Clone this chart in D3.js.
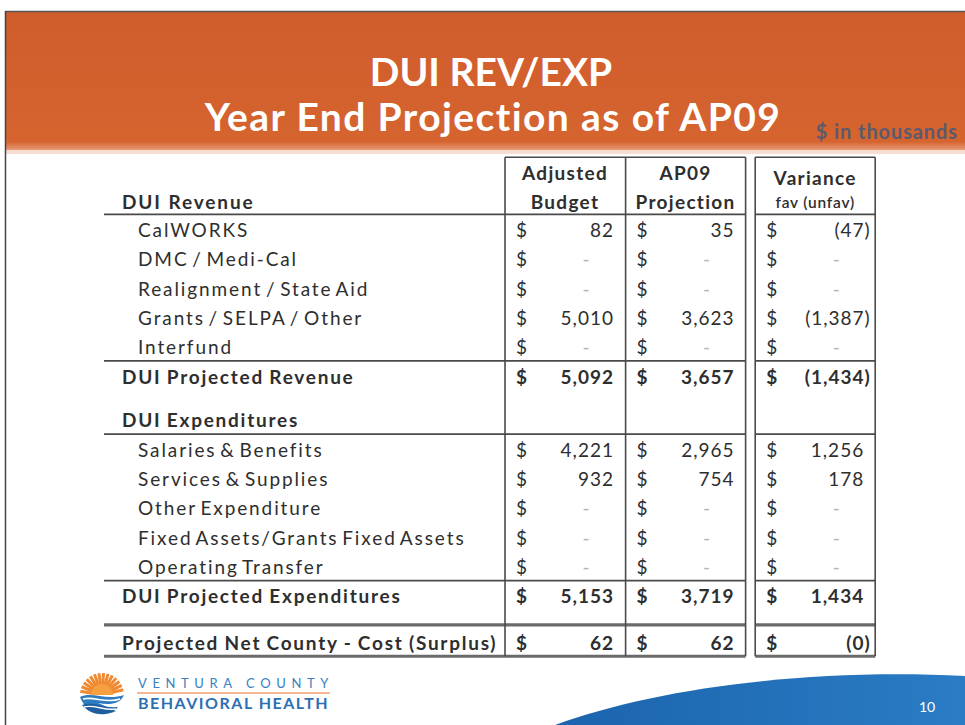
<!DOCTYPE html>
<html><head><meta charset="utf-8">
<script src="https://cdn.jsdelivr.net/npm/d3@7"></script>
<style>
html,body{margin:0;padding:0;background:#fff;}
svg{display:block;}
</style></head>
<body>
<svg id="chart" width="965" height="725"></svg>
<script>
// ---------------- DATA ----------------
const titleLines = ["DUI REV/EXP", "Year End Projection as of AP09"];
const unitsNote = "$ in thousands";
const sectionTitle = "DUI Revenue";
const columnHeaders = [["Adjusted", "Budget"], ["AP09", "Projection"], ["Variance", "fav (unfav)"]];
const categories = [
  "CalWORKS", "DMC / Medi-Cal", "Realignment / State Aid", "Grants / SELPA / Other", "Interfund",
  "DUI Projected Revenue",
  "DUI Expenditures",
  "Salaries & Benefits", "Services & Supplies", "Other Expenditure", "Fixed Assets/Grants Fixed Assets", "Operating Transfer",
  "DUI Projected Expenditures",
  "Projected Net County  - Cost (Surplus)"
];
const rowTypes = ["item","item","item","item","item","total","section","item","item","item","item","item","total","net"];
const adjustedBudget = [82, 0, 0, 5010, 0, 5092, null, 4221, 932, 0, 0, 0, 5153, 62];
const ap09Projection = [35, 0, 0, 3623, 0, 3657, null, 2965, 754, 0, 0, 0, 3719, 62];
const variance =       [-47, 0, 0, -1387, 0, -1434, null, 1256, 178, 0, 0, 0, 1434, -0.2];
const pageNumber = "10";
const logoLines = ["VENTURA COUNTY", "BEHAVIORAL HEALTH"];

// ---------------- LAYOUT ----------------
const W = 965, H = 725;
const svg = d3.select("#chart");
const FONT = "Lato, 'Open Sans', sans-serif";
const TXT = "#2e2e2e";
const LINE = "#4a4a4a";

// frame + banner
svg.append("rect").attr("x",0).attr("y",0).attr("width",W).attr("height",H).attr("fill","#fff");
const defs = svg.append("defs");
const bg = defs.append("linearGradient").attr("id","bannerFade").attr("x1",0).attr("y1",0).attr("x2",0).attr("y2",1);
bg.append("stop").attr("offset","0").attr("stop-color","#d05c2c");
bg.append("stop").attr("offset","0.94").attr("stop-color","#d5642f");
bg.append("stop").attr("offset","1").attr("stop-color","#e79a78");
svg.append("rect").attr("x",5).attr("y",12).attr("width",W-5).attr("height",138).attr("fill","url(#bannerFade)");
svg.append("rect").attr("x",5).attr("y",150).attr("width",W-5).attr("height",4).attr("fill","#f7ddd2");
svg.append("line").attr("x1",5).attr("x2",W).attr("y1",11.5).attr("y2",11.5).attr("stroke","#555").attr("stroke-width",1.5);
svg.append("line").attr("x1",5.5).attr("x2",5.5).attr("y1",11).attr("y2",H).attr("stroke","#444").attr("stroke-width",1.5);

// title
svg.append("text").attr("x",491).attr("y",86).attr("text-anchor","middle")
  .attr("font-family",FONT).attr("font-weight",700).attr("font-size",39).attr("fill","#fff")
  .text(titleLines[0]);
svg.append("text").attr("x",493).attr("y",131).attr("text-anchor","middle")
  .attr("font-family",FONT).attr("font-weight",700).attr("font-size",39).attr("letter-spacing",1.4).attr("fill","#fff")
  .text(titleLines[1]);
svg.append("text").attr("x",958).attr("y",139).attr("text-anchor","end")
  .attr("font-family",FONT).attr("font-weight",700).attr("font-size",20).attr("letter-spacing",0.9).attr("fill","#5a5a6e")
  .text(unitsNote);

// row slot scale
const gapBefore = {section: 0.5, net: 0.58};
let acc = 0;
const slots = categories.map((c,i) => { acc += (gapBefore[rowTypes[i]] || 0); return i + acc; });
const y = d3.scaleLinear().domain([0, 1]).range([230.5, 259.8]);

// column scale (column units)
const colKeys = ["budget","projection","variance"];
const colStart = {budget: 0, projection: 1.005, variance: 2.085};
const x = d3.scaleLinear().domain([0, 1]).range([505, 625]);
const colL = k => x(colStart[k]);
const colR = k => x(colStart[k] + 1);
const seriesByCol = {budget: adjustedBudget, projection: ap09Projection, variance: variance};

const tableLeft = 104;
const topY = y(-2.5);
const netIdx = rowTypes.indexOf("net");
const netTop = y(slots[netIdx] - 0.62);
const bottomY = y(slots[netIdx] + 0.45);

const g = svg.append("g");

// horizontal rules
function hRule(yy, w, color) {
  g.append("line").attr("x1",tableLeft).attr("x2",colR("projection")).attr("y1",yy).attr("y2",yy)
    .attr("stroke",color).attr("stroke-width",w);
  g.append("line").attr("x1",colL("variance")).attr("x2",colR("variance")).attr("y1",yy).attr("y2",yy)
    .attr("stroke",color).attr("stroke-width",w);
}
g.append("line").attr("x1",colL("budget")).attr("x2",colR("projection")).attr("y1",topY).attr("y2",topY).attr("stroke",LINE).attr("stroke-width",1.5);
g.append("line").attr("x1",colL("variance")).attr("x2",colR("variance")).attr("y1",topY).attr("y2",topY).attr("stroke",LINE).attr("stroke-width",1.5);
hRule(y(-0.55), 1.8, LINE);
rowTypes.forEach((t,i) => {
  if (t === "total") hRule(y(slots[i] - 0.55), 1.8, LINE);
  if (t === "section") hRule(y(slots[i] + 0.45), 1.8, LINE);
});
hRule(netTop, 3.2, "#6a6a6a");
hRule(bottomY, 3.2, "#6a6a6a");

// vertical rules
[colL("budget"), colL("projection"), colR("projection"), colL("variance"), colR("variance")].forEach(xx => {
  g.append("line").attr("x1",xx).attr("x2",xx).attr("y1",topY).attr("y2",bottomY)
    .attr("stroke",LINE).attr("stroke-width",1.6);
});

// column headers
colKeys.forEach((k,ci) => {
  const cx = (colL(k) + colR(k)) / 2;
  const isVar = k === "variance";
  g.append("text").attr("x",cx).attr("y", isVar ? y(-1.78) + 6.5 : y(-1.95) + 6.5).attr("text-anchor","middle")
    .attr("font-family",FONT).attr("font-weight",700).attr("font-size",19).attr("letter-spacing",1.3).attr("fill",TXT)
    .text(columnHeaders[ci][0]);
  g.append("text").attr("x",cx).attr("y", isVar ? y(-0.95) + 5.5 : y(-0.97) + 6.5).attr("text-anchor","middle")
    .attr("font-family",FONT).attr("font-weight", isVar ? 600 : 700).attr("font-size", isVar ? 15.5 : 19)
    .attr("letter-spacing", isVar ? 0.8 : 1.3).attr("fill",TXT)
    .text(columnHeaders[ci][1]);
});
g.append("text").attr("x",122).attr("y",y(-0.97)+6.5)
  .attr("font-family",FONT).attr("font-weight",700).attr("font-size",19).attr("letter-spacing",1.9).attr("fill",TXT)
  .text(sectionTitle);

// row labels
categories.forEach((c,i) => {
  const t = rowTypes[i];
  const bold = t !== "item";
  g.append("text").attr("x", bold ? 122 : 138).attr("y", y(slots[i]) + 6.5)
    .attr("font-family",FONT).attr("font-weight", bold ? 700 : 400).attr("font-size",19)
    .attr("letter-spacing", bold ? 1.75 : 1.9).attr("word-spacing", bold ? -1 : -3).attr("fill",TXT)
    .text(c);
});

// values
const fmt = d3.format(",.0f");
colKeys.forEach(k => {
  seriesByCol[k].forEach((v,i) => {
    if (v === null) return;
    const bold = rowTypes[i] !== "item";
    const yy = y(slots[i]) + 6.5;
    g.append("text").attr("x", colL(k) + 11).attr("y", yy)
      .attr("font-family",FONT).attr("font-weight", bold ? 700 : 400).attr("font-size",19).attr("fill",TXT)
      .text("$");
    if (v === 0) {
      g.append("text").attr("x", colR(k) - 39).attr("y", yy).attr("text-anchor","middle")
        .attr("font-family",FONT).attr("font-size",19).attr("fill","#b5b5b5").text("-");
    } else if (v < 0) {
      g.append("text").attr("x", colR(k) - 4.5).attr("y", yy).attr("text-anchor","end")
        .attr("font-family",FONT).attr("font-weight", bold ? 700 : 400).attr("font-size",19).attr("letter-spacing",1).attr("fill",TXT)
        .text("(" + fmt(Math.abs(v)) + ")");
    } else {
      g.append("text").attr("x", colR(k) - 11).attr("y", yy).attr("text-anchor","end")
        .attr("font-family",FONT).attr("font-weight", bold ? 700 : 400).attr("font-size",19).attr("letter-spacing",1).attr("fill",TXT)
        .text(fmt(v));
    }
  });
});

// footer swoosh
const sg = defs.append("linearGradient").attr("id","swoosh").attr("x1",0).attr("y1",0).attr("x2",1).attr("y2",0);
sg.append("stop").attr("offset","0").attr("stop-color","#1b64ad");
sg.append("stop").attr("offset","1").attr("stop-color","#2a7cc4");
svg.append("path").attr("d","M555,725 C650,690 800,668 965,676 L965,725 Z").attr("fill","url(#swoosh)");
svg.append("text").attr("x",927).attr("y",712).attr("text-anchor","middle")
  .attr("font-family",FONT).attr("font-size",14).attr("fill","#fff").text(pageNumber);

// logo
const lg = svg.append("g").attr("transform","translate(102,693)");
const rays = d3.range(-170, -5, 12);
rays.forEach(a => {
  const r = a * Math.PI/180;
  lg.append("line").attr("x1",Math.cos(r)*9).attr("y1",Math.sin(r)*9+2).attr("x2",Math.cos(r)*22).attr("y2",Math.sin(r)*22+2)
    .attr("stroke","#f08a32").attr("stroke-width",3);
});
lg.append("path").attr("d","M-11,2 A11,11 0 0 1 11,2 Z").attr("fill","#f5a040");
lg.append("path").attr("d","M-22,4 C-10,-2 4,8 22,2 C18,12 6,12 -4,10 C6,14 12,18 14,18 C2,24 -16,20 -22,4 Z").attr("fill","#2e7bbf");
lg.append("path").attr("d","M-20,12 C-8,8 2,16 16,14 C8,24 -10,24 -20,12 Z").attr("fill","#1f5fa0");
lg.append("path").attr("d","M-19,6 C-8,3 4,11 18,6").attr("fill","none").attr("stroke","#fff").attr("stroke-width",1.6);
lg.append("path").attr("d","M-18,14 C-8,11 2,18 14,16").attr("fill","none").attr("stroke","#fff").attr("stroke-width",1.4);

svg.append("text").attr("x",138).attr("y",688)
  .attr("font-family",FONT).attr("font-size",13).attr("letter-spacing",5.6).attr("fill","#3a7fc0")
  .text(logoLines[0]);
svg.append("line").attr("x1",137).attr("x2",330).attr("y1",693).attr("y2",693).attr("stroke","#f0a070").attr("stroke-width",1.5);
svg.append("text").attr("x",138).attr("y",709)
  .attr("font-family",FONT).attr("font-weight",700).attr("font-size",16).attr("letter-spacing",1.5).attr("fill","#2e6fb2")
  .text(logoLines[1]);
</script>
</body></html>
